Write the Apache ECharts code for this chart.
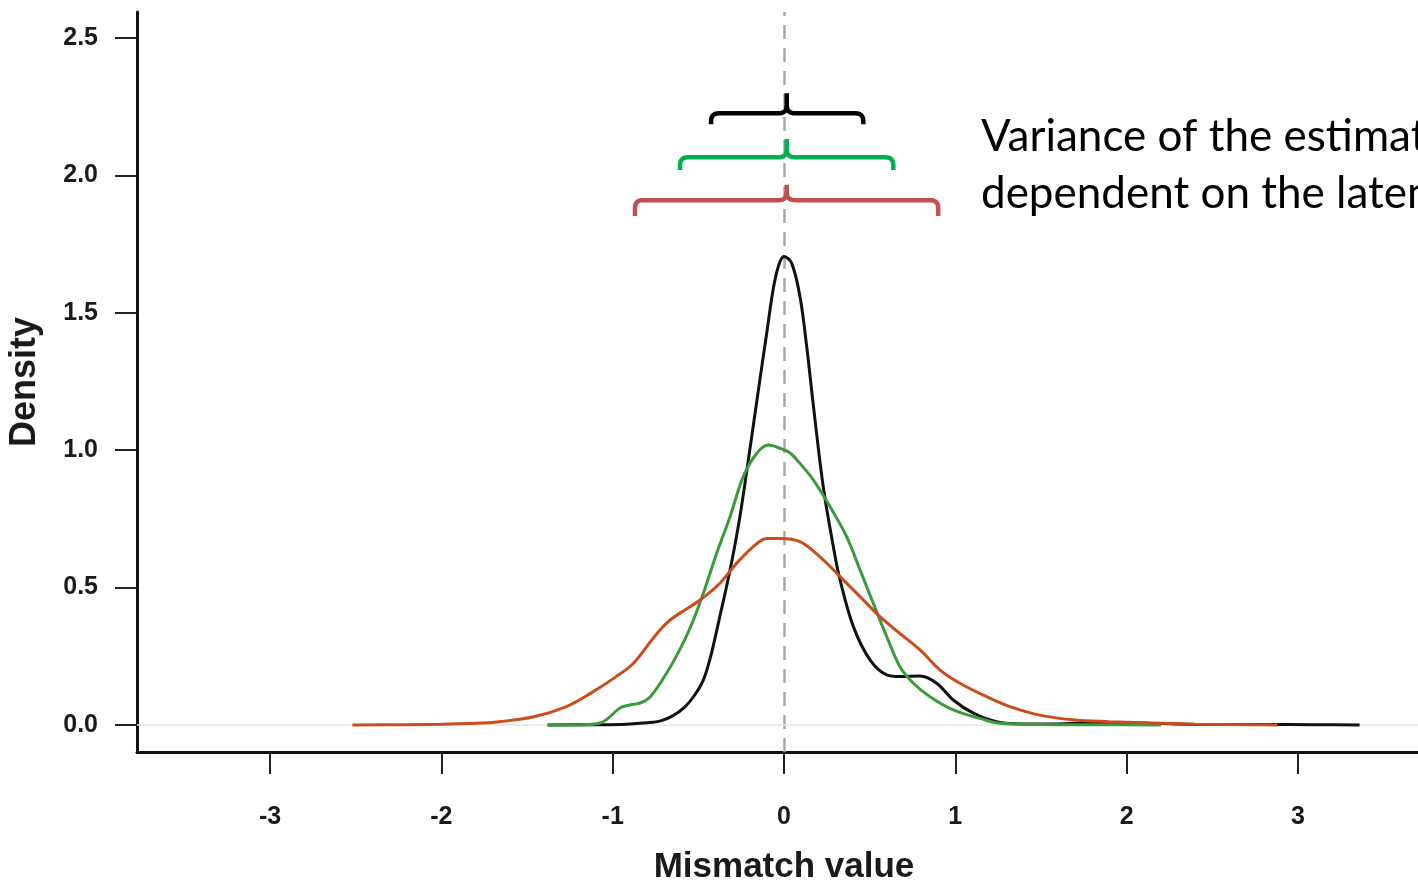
<!DOCTYPE html>
<html><head><meta charset="utf-8">
<script src="https://cdn.jsdelivr.net/npm/echarts@6/dist/echarts.min.js"></script>
<style>html,body{margin:0;padding:0;background:#fff;overflow:hidden}#c{width:1418px;height:882px}</style>
</head><body><div id="c"></div>
<script>
// Tick values
const xTicks = [-3, -2, -1, 0, 1, 2, 3];
const yTicks = [0, 0.5, 1, 1.5, 2, 2.5];

// Black density curve
const blackX = [-1.38, -1.1, -0.92, -0.8, -0.72, -0.65, -0.58, -0.52, -0.47, -0.43, -0.38, -0.315, -0.257, -0.2, -0.14, -0.10, -0.062, -0.03, 0.0, 0.045, 0.093, 0.132, 0.17, 0.229, 0.288, 0.327, 0.405, 0.502, 0.60, 0.677, 0.794, 0.891, 0.988, 1.105, 1.24, 1.4, 1.6, 1.8, 2.0, 2.2, 2.5, 2.8, 3.1, 3.36];
const blackY = [0, 0.001, 0.003, 0.008, 0.015, 0.033, 0.065, 0.11, 0.165, 0.245, 0.38, 0.564, 0.76, 1.0, 1.26, 1.43, 1.59, 1.675, 1.705, 1.68, 1.56, 1.38, 1.17, 0.867, 0.649, 0.528, 0.358, 0.237, 0.182, 0.176, 0.178, 0.152, 0.091, 0.043, 0.012, 0.004, 0.004, 0.008, 0.008, 0.005, 0.002, 0.002, 0.001, 0];

// Green density curve
const greenX = [-1.38, -1.2, -1.07, -0.957, -0.9, -0.84, -0.78, -0.685, -0.589, -0.529, -0.471, -0.393, -0.315, -0.238, -0.159, -0.092, -0.023, 0.035, 0.093, 0.171, 0.269, 0.366, 0.444, 0.521, 0.60, 0.677, 0.755, 0.852, 0.988, 1.144, 1.261, 1.5, 1.8, 2.2];
const greenY = [0, 0.0, 0.008, 0.062, 0.073, 0.08, 0.103, 0.189, 0.298, 0.382, 0.479, 0.625, 0.758, 0.904, 0.989, 1.019, 1.007, 0.99, 0.952, 0.892, 0.794, 0.685, 0.564, 0.443, 0.321, 0.212, 0.152, 0.103, 0.055, 0.024, 0.006, 0.002, 0.001, 0];

// Orange density curve
const orangeX = [-2.52, -2.2, -2.0, -1.8, -1.66, -1.46, -1.27, -1.13, -0.98, -0.88, -0.78, -0.724, -0.665, -0.6, -0.49, -0.374, -0.276, -0.179, -0.101, -0.02, 0.093, 0.21, 0.327, 0.444, 0.56, 0.677, 0.794, 0.911, 1.027, 1.183, 1.319, 1.5, 1.7, 1.9, 2.1, 2.4, 2.7, 2.88];
const orangeY = [0, 0.001, 0.003, 0.006, 0.012, 0.03, 0.067, 0.115, 0.176, 0.224, 0.303, 0.346, 0.382, 0.41, 0.455, 0.516, 0.589, 0.649, 0.679, 0.679, 0.667, 0.612, 0.54, 0.467, 0.394, 0.333, 0.273, 0.2, 0.152, 0.103, 0.067, 0.035, 0.018, 0.012, 0.008, 0.003, 0.001, 0];

// Variance brackets (data units): [xLeft, xRight, xCenter, yBar, yEnd, yTip]
const bracketBlack = [-0.426, 0.463, 0.016, 2.226, 2.186, 2.299];
const bracketGreen = [-0.607, 0.638, 0.016, 2.066, 2.02, 2.132];
const bracketRed   = [-0.870, 0.900, 0.016, 1.91, 1.852, 1.966];

const annotLine1 = 'Variance of the estimates';
const annotLine2 = 'dependent on the latent';

const pair = (xs, ys) => xs.map((x, i) => [x, ys[i]]);
const chart = echarts.init(document.getElementById('c'), null, {renderer: 'canvas'});
const FONT = 'Liberation Sans, Arial, Helvetica, sans-serif';

chart.setOption({
  animation: false,
  backgroundColor: '#fff',
  grid: {left: 137, right: 0, top: 12, bottom: 130, containLabel: false, outerBoundsMode: 'none'},
  xAxis: {
    type: 'value', min: -3.777, max: 3.701,
    axisLine: {show: true, onZero: false, lineStyle: {color: '#111', width: 3}},
    axisTick: {show: true, customValues: xTicks, length: 22, lineStyle: {color: '#222', width: 2}},
    axisLabel: {customValues: xTicks, margin: 53, fontSize: 25, fontWeight: 'bold', color: '#1a1a1a', fontFamily: FONT,
      formatter: v => String(Math.round(v))},
    splitLine: {show: false},
    name: 'Mismatch value', nameLocation: 'middle', nameGap: 98,
    nameTextStyle: {fontSize: 35, fontWeight: 'bold', color: '#1a1a1a', fontFamily: FONT, padding: [0, 0, 0, 13]}
  },
  yAxis: {
    type: 'value', min: -0.0983, max: 2.5946,
    axisLine: {show: true, onZero: false, lineStyle: {color: '#111', width: 3}},
    axisTick: {show: true, customValues: yTicks, length: 22, lineStyle: {color: '#222', width: 2}},
    axisLabel: {customValues: yTicks, margin: 39, fontSize: 25, fontWeight: 'bold', color: '#1a1a1a', fontFamily: FONT,
      formatter: v => v.toFixed(1)},
    splitLine: {show: false},
    name: 'Density', nameLocation: 'middle', nameGap: 94, nameRotate: 90,
    nameTextStyle: {fontSize: 36, fontWeight: 'bold', color: '#1a1a1a', fontFamily: FONT}
  },
  series: [
    {type: 'line', name: 'black', data: pair(blackX, blackY), smooth: 0.35, showSymbol: false, symbol: 'none',
      lineStyle: {color: '#111', width: 3}, z: 3,
      markLine: {silent: true, symbol: 'none', label: {show: false}, z: 1,
        data: [
          {xAxis: 0, lineStyle: {color: '#aaaaaa', width: 2.5, type: [14, 9]}},
          {yAxis: 0, lineStyle: {color: '#e6e6e6', width: 1.5, type: 'solid'}}
        ]}},
    {type: 'line', name: 'green', data: pair(greenX, greenY), smooth: 0.35, showSymbol: false, symbol: 'none',
      lineStyle: {color: '#3b9b3b', width: 3}, z: 4},
    {type: 'line', name: 'orange', data: pair(orangeX, orangeY), smooth: 0.35, showSymbol: false, symbol: 'none',
      lineStyle: {color: '#cc4c1c', width: 3}, z: 5}
  ]
});

function quad(p0, c, p1, n) {
  const out = [];
  for (let i = 1; i <= n; i++) {
    const t = i / n, u = 1 - t;
    out.push([u * u * p0[0] + 2 * u * t * c[0] + t * t * p1[0], u * u * p0[1] + 2 * u * t * c[1] + t * t * p1[1]]);
  }
  return out;
}
function bracketParts(b) {
  const p = (x, y) => chart.convertToPixel({gridIndex: 0}, [x, y]);
  const L = p(b[0], b[4]), Lb = p(b[0], b[3]);
  const R = p(b[1], b[4]), Rb = p(b[1], b[3]);
  const C = p(b[2], b[3]), T = p(b[2], b[5]);
  const r = 8;
  const left = [L, [L[0], Lb[1] + r]]
    .concat(quad([L[0], Lb[1] + r], Lb, [Lb[0] + r, Lb[1]], 8))
    .concat([[C[0] - r, C[1]]])
    .concat(quad([C[0] - r, C[1]], C, [C[0], C[1] - r], 8))
    .concat([T]);
  const right = [[C[0], C[1] - r]]
    .concat(quad([C[0], C[1] - r], C, [C[0] + r, C[1]], 8))
    .concat([[Rb[0] - r, Rb[1]]])
    .concat(quad([Rb[0] - r, Rb[1]], Rb, [Rb[0], Rb[1] + r], 8))
    .concat([R]);
  return [left, right];
}
const gfx = [];
[[bracketBlack, '#000000'], [bracketGreen, '#00b050'], [bracketRed, '#c0504d']].forEach(([b, c]) => {
  bracketParts(b).forEach(pts => {
    gfx.push({type: 'polyline', shape: {points: pts}, style: {stroke: c, lineWidth: 4.5, fill: null, lineCap: 'butt', lineJoin: 'round'}, z: 10});
  });
});
gfx.push({type: 'text', x: 981, y: 137, style: {text: annotLine1, font: '44px Lato, "Open Sans", sans-serif', fill: '#000', verticalAlign: 'middle'}, z: 10});
gfx.push({type: 'text', x: 981, y: 194, style: {text: annotLine2, font: '44px Lato, "Open Sans", sans-serif', fill: '#000', verticalAlign: 'middle'}, z: 10});
chart.setOption({graphic: gfx});
</script>
</body></html>
